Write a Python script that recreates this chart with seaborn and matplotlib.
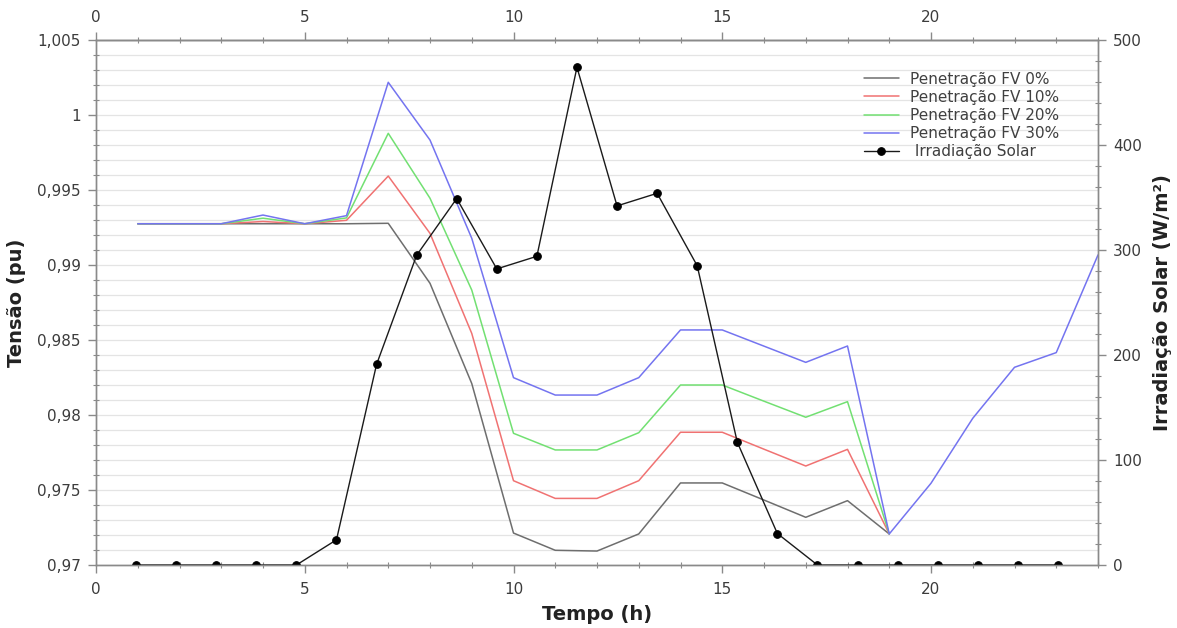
import numpy as np
import pandas as pd
import matplotlib
matplotlib.use("Agg")
import matplotlib.pyplot as plt
import seaborn as sns
from matplotlib.ticker import MultipleLocator, FuncFormatter

# ---------------- data ----------------
hours = [1, 2, 3, 4, 5, 6, 7, 8, 9, 10, 11, 12, 13, 14, 15, 16, 17, 18, 19, 20, 21, 22, 23, 24]

pen_0 = [0.99275, 0.99275, 0.99275, 0.99275, 0.99275, 0.99275, 0.99278, 0.98878, 0.98210,
         0.97213, 0.97098, 0.97093, 0.97207, 0.97547, 0.97547, 0.97433, 0.97318, 0.97429, 0.97207]
pen_10 = [0.99275, 0.99275, 0.99275, 0.99290, 0.99275, 0.99298, 0.99593, 0.99211, 0.98544,
          0.97562, 0.97444, 0.97444, 0.97562, 0.97885, 0.97885, 0.97772, 0.97660, 0.97771, 0.97207]
pen_20 = [0.99275, 0.99275, 0.99275, 0.99312, 0.99275, 0.99314, 0.99878, 0.99445, 0.98833,
          0.97878, 0.97767, 0.97767, 0.97882, 0.98200, 0.98200, 0.98092, 0.97985, 0.98089, 0.97207]
pen_30 = [0.99275, 0.99275, 0.99275, 0.99333, 0.99275, 0.99329, 1.00218, 0.99833, 0.99178,
          0.98249, 0.98133, 0.98133, 0.98249, 0.98567, 0.98567, 0.98459, 0.98351, 0.98460, 0.97207,
          0.97545, 0.97978, 0.98318, 0.98416, 0.99067]

irr_x = [0.96, 1.92, 2.88, 3.84, 4.80, 5.76, 6.72, 7.68, 8.64, 9.60, 10.56, 11.52,
         12.48, 13.44, 14.40, 15.36, 16.32, 17.28, 18.24, 19.20, 20.16, 21.12, 22.08, 23.04]
irr_vals = [0, 0, 0, 0, 0, 24, 191, 295, 349, 282, 294, 474,
            342, 354, 285, 117, 30, 0, 0, 0, 0, 0, 0, 0]

series_labels = ["Penetração FV 0%", "Penetração FV 10%", "Penetração FV 20%", "Penetração FV 30%"]
irr_label = " Irradiação Solar"
x_ticks = [0, 5, 10, 15, 20]

# ---------------- style ----------------
sns.set_style("white")
plt.rcParams['font.family'] = ['DejaVu Sans']

spine_c = '#8a8a8a'
tick_c = '#3c3c3c'
lab_c = '#222222'
colors = ['#6e6e6e', '#f07272', '#72e072', '#7474f0']

fig = plt.figure(figsize=(11.77, 6.28), dpi=100)
ax = fig.add_axes([96 / 1177, 1 - 565 / 628, (1098 - 96) / 1177, (565 - 40) / 628])
ax2 = ax.twinx()

handles = []
for lab, vals, c in zip(series_labels, [pen_0, pen_10, pen_20, pen_30], colors):
    df = pd.DataFrame({"h": hours[:len(vals)], "v": vals})
    sns.lineplot(data=df, x="h", y="v", ax=ax, color=c, linewidth=1.1, legend=False)
    handles.append(ax.lines[-1])

dfi = pd.DataFrame({"h": irr_x, "v": irr_vals})
sns.lineplot(data=dfi, x="h", y="v", ax=ax2, color='#1a1a1a', linewidth=1.0,
             marker='o', markersize=5.5, markeredgecolor='#000000',
             markerfacecolor='#000000', legend=False)
irr_line = ax2.lines[-1]
irr_line.set_clip_on(True)
handles.append(irr_line)

ax.set_xlim(0, 24)
ax.set_ylim(0.97, 1.005)
ax2.set_ylim(0, 500)

# grid
ax.yaxis.set_major_locator(MultipleLocator(0.005))
ax.yaxis.set_minor_locator(MultipleLocator(0.001))
ax.grid(which='both', axis='y', color='#e4e4e4', linewidth=0.9)
ax.grid(which='both', axis='x', visible=False)
ax2.grid(False)
ax.set_axisbelow(True)


def fmt(v, pos):
    s = f"{v:.3f}".rstrip('0').rstrip('.')
    return s.replace('.', ',')


ax.yaxis.set_major_formatter(FuncFormatter(fmt))
ax.set_xticks(x_ticks)
ax.xaxis.set_minor_locator(MultipleLocator(1))
ax2.yaxis.set_major_locator(MultipleLocator(100))
ax2.yaxis.set_minor_locator(MultipleLocator(20))

secx = ax.secondary_xaxis('top')
secx.set_xticks(x_ticks)
secx.xaxis.set_minor_locator(MultipleLocator(1))

for a in [ax, ax2, secx]:
    for s in a.spines.values():
        s.set_color(spine_c)
        s.set_linewidth(1.0)
    a.tick_params(which='major', direction='out', length=6, width=1, color=spine_c,
                  labelcolor=tick_c, labelsize=11)
    a.tick_params(which='minor', direction='inout', length=5, width=0.8, color=spine_c)

ax.tick_params(axis='y', which='both', left=True, pad=5)
ax.tick_params(axis='x', which='both', bottom=True, pad=6)
ax2.tick_params(axis='y', which='both', right=True, pad=5)
secx.tick_params(axis='x', which='both', top=True, pad=5)

ax.set_xlabel("Tempo (h)", fontsize=14, fontweight='bold', color=lab_c, labelpad=6)
ax.set_ylabel("Tensão (pu)", fontsize=14, fontweight='bold', color=lab_c, labelpad=8)
ax2.set_ylabel("Irradiação Solar (W/m²)", fontsize=14, fontweight='bold', color=lab_c, labelpad=8)

ax2.legend(handles, series_labels + [irr_label], loc='upper left',
           bbox_to_anchor=(850 / 1177, 1 - 58 / 628), bbox_transform=fig.transFigure,
           frameon=False, fontsize=11, handlelength=2.3, labelspacing=0.2,
           handletextpad=0.7, labelcolor='#404040')

fig.savefig("out.png", dpi=100)
